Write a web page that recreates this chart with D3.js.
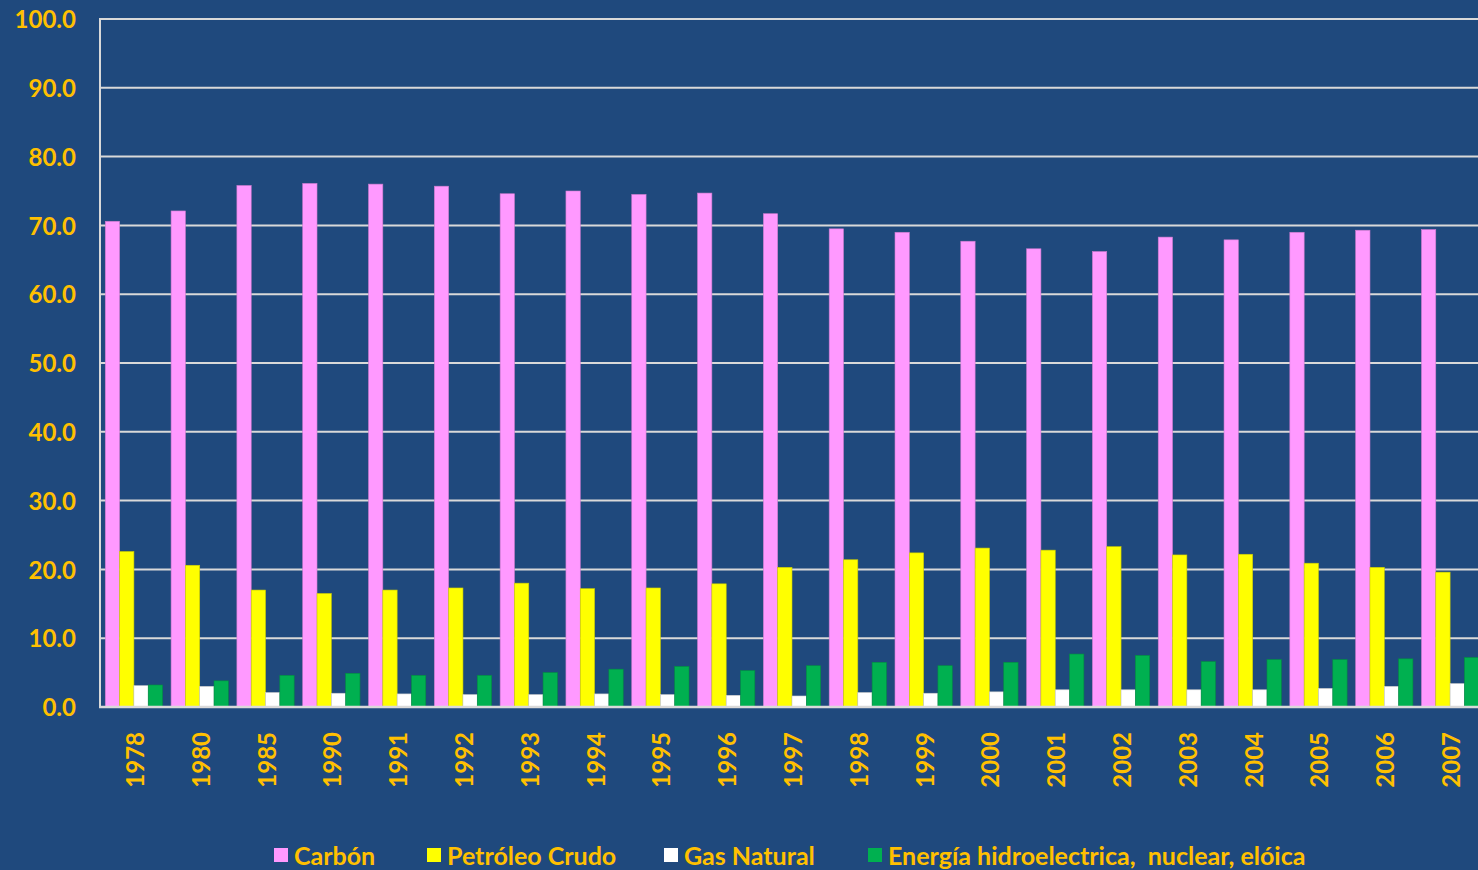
<!DOCTYPE html>
<html>
<head>
<meta charset="utf-8">
<script src="https://cdn.jsdelivr.net/npm/d3@7"></script>
<style>
  html, body { margin: 0; padding: 0; background: #1F497D; overflow: hidden; }
  svg { display: block; }
  text { font-family: Lato, "Open Sans", sans-serif; font-weight: bold; fill: #FFC000; }
</style>
</head>
<body>
<svg id="chart"></svg>
<script>
// ── Data ──────────────────────────────────────────────────────────────────
const years = ['1978', '1980', '1985', '1990', '1991', '1992', '1993', '1994', '1995', '1996',
               '1997', '1998', '1999', '2000', '2001', '2002', '2003', '2004', '2005', '2006', '2007'];

const carbon   = [70.6, 72.1, 75.8, 76.1, 76.0, 75.7, 74.6, 75.0, 74.5, 74.7,
                  71.7, 69.5, 69.0, 67.7, 66.6, 66.2, 68.3, 67.9, 69.0, 69.3, 69.4];
const petroleo = [22.6, 20.6, 17.0, 16.5, 17.0, 17.3, 18.0, 17.2, 17.3, 17.9,
                  20.3, 21.4, 22.4, 23.1, 22.8, 23.3, 22.1, 22.2, 20.9, 20.3, 19.6];
const gas      = [3.1, 3.0, 2.1, 2.0, 1.9, 1.8, 1.8, 1.9, 1.8, 1.7,
                  1.6, 2.1, 2.0, 2.2, 2.5, 2.5, 2.5, 2.5, 2.7, 3.0, 3.4];
const energia  = [3.2, 3.8, 4.6, 4.9, 4.6, 4.6, 5.0, 5.5, 5.9, 5.3,
                  6.0, 6.5, 6.0, 6.5, 7.7, 7.5, 6.6, 6.9, 6.9, 7.0, 7.2];

const seriesNames  = ['Carbón', 'Petróleo Crudo', 'Gas Natural', 'Energía hidroelectrica,  nuclear, elóica'];
const seriesColors = ['#FF99FF', '#FFFF00', '#FFFFFF', '#00B050'];
const seriesValues = [carbon, petroleo, gas, energia];

const yTicks = [0, 10, 20, 30, 40, 50, 60, 70, 80, 90, 100];

// ── Layout ────────────────────────────────────────────────────────────────
const W = 1478, H = 870;
const plotLeft = 101, plotRight = 1483, plotTop = 19, plotBottom = 707;

const svg = d3.select('#chart').attr('width', W).attr('height', H);

svg.append('rect').attr('width', W).attr('height', H).attr('fill', '#1F497D');

const x0 = d3.scaleBand().domain(years).range([plotLeft, plotRight])
  .paddingInner(0.13).paddingOuter(0.065);
const x1 = d3.scaleBand().domain(d3.range(seriesNames.length)).range([0, x0.bandwidth()]);
const y  = d3.scaleLinear().domain([0, 100]).range([plotBottom, plotTop]);

// ── Gridlines ─────────────────────────────────────────────────────────────
svg.append('g')
  .selectAll('line')
  .data(yTicks.filter(d => d > 0))
  .join('line')
  .attr('x1', plotLeft - 1).attr('x2', W + 10)
  .attr('y1', d => y(d)).attr('y2', d => y(d))
  .attr('stroke', '#D9D9D9').attr('stroke-width', 2);

// ── Bars ──────────────────────────────────────────────────────────────────
const groups = svg.append('g')
  .selectAll('g')
  .data(years)
  .join('g')
  .attr('transform', d => `translate(${x0(d)},0)`);

groups.selectAll('rect')
  .data((d, i) => seriesValues.map((vals, s) => ({ s, v: vals[i] })))
  .join('rect')
  .attr('x', d => x1(d.s))
  .attr('width', x1.bandwidth())
  .attr('y', d => y(d.v))
  .attr('height', d => y(0) - y(d.v))
  .attr('fill', d => seriesColors[d.s])
  .attr('stroke', d => d3.color(seriesColors[d.s]).darker(0.6))
  .attr('stroke-width', 0.6);

// ── Axes ──────────────────────────────────────────────────────────────────
svg.append('line')
  .attr('x1', plotLeft - 1).attr('x2', plotLeft - 1)
  .attr('y1', plotTop - 1).attr('y2', plotBottom + 1)
  .attr('stroke', '#D9D9D9').attr('stroke-width', 2);
svg.append('line')
  .attr('x1', plotLeft - 2).attr('x2', W + 10)
  .attr('y1', plotBottom).attr('y2', plotBottom)
  .attr('stroke', '#D9D9D9').attr('stroke-width', 2.5);

const yAxis = svg.append('g')
  .attr('transform', `translate(${plotLeft - 25},0)`)
  .call(d3.axisLeft(y).tickValues(yTicks).tickSize(0).tickFormat(d => d.toFixed(1)));
yAxis.select('.domain').remove();
yAxis.selectAll('text')
  .attr('x', 0).attr('dy', '0.36em')
  .style('font-size', '24px').style('font-family', 'Lato, sans-serif')
  .attr('fill', '#FFC000');

const xAxis = svg.append('g');
xAxis.selectAll('text')
  .data(years)
  .join('text')
  .attr('transform', d => `translate(${x0(d) + x0.bandwidth() / 2 + 0.5},${plotBottom + 25}) rotate(-90)`)
  .attr('text-anchor', 'end')
  .attr('dominant-baseline', 'central')
  .style('font-size', '24px')
  .text(d => d);

// ── Legend ────────────────────────────────────────────────────────────────
const legendX = [274, 427, 664, 868];
const legend = svg.append('g').attr('transform', 'translate(0,855)');
seriesNames.forEach((name, i) => {
  legend.append('rect')
    .attr('x', legendX[i]).attr('y', -7)
    .attr('width', 14).attr('height', 14)
    .attr('fill', seriesColors[i]);
  legend.append('text')
    .attr('x', legendX[i] + 20).attr('y', 0)
    .attr('dominant-baseline', 'central')
    .style('font-size', '25px')
    .style('white-space', 'pre')
    .text(name);
});
</script>
</body>
</html>
